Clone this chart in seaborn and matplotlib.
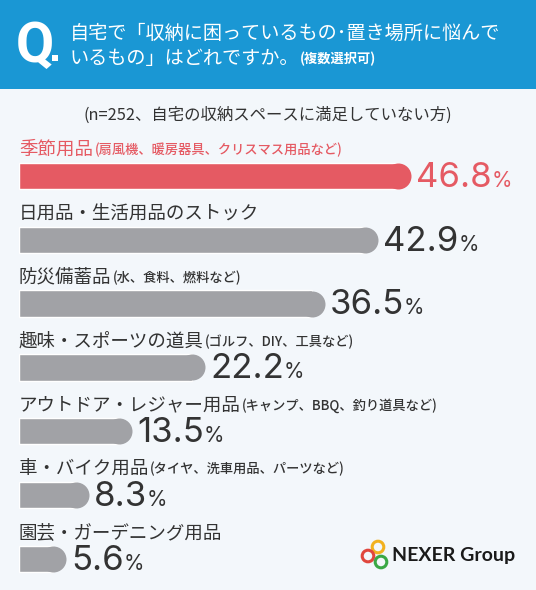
import numpy as np
import matplotlib.pyplot as plt
import pandas as pd
import seaborn as sns
from matplotlib.patches import Rectangle, Circle

# data
items = ['季節用品', '日用品・生活用品のストック', '防災備蓄品', '趣味・スポーツの道具',
         'アウトドア・レジャー用品', '車・バイク用品', '園芸・ガーデニング用品']
notes = ['(扇風機、暖房器具、クリスマス用品など)', '', '(水、食料、燃料など)',
         '(ゴルフ、DIY、工具など)', '(キャンプ、BBQ、釣り道具など)',
         '(タイヤ、洗車用品、パーツなど)', '']
pct = [46.8, 42.9, 36.5, 22.2, 13.5, 8.3, 5.6]

title_1 = '自宅で「収納に困っているもの･置き場所に悩んで'
title_2 = 'いるもの」はどれですか。'
title_note = '(複数選択可)'
subtitle = '(n=252、自宅の収納スペースに満足していない方)'

blue = '#1a97d4'
bg_col = '#f3f7fb'
red = '#e55a63'
grey = '#a1a2a6'
dark = '#333333'

sns.set_theme(style='white')
plt.rcParams['font.family'] = ['Noto Sans CJK JP', 'DejaVu Sans']

W, H = 536, 590
fig = plt.figure(figsize=(W / 100, H / 100), dpi=100)
fig.patch.set_facecolor(bg_col)

# background / header layer in pixel coords
bg = fig.add_axes([0, 0, 1, 1])
bg.set_xlim(0, W)
bg.set_ylim(H, 0)
bg.axis('off')
bg.add_patch(Rectangle((0, 0), W, 89, color=blue, lw=0))

bg.text(16, 62, 'Q', color='white', fontsize=40, fontweight='bold',
        family=['Roboto', 'DejaVu Sans'], va='baseline', ha='left')
bg.add_patch(Rectangle((52, 55), 6, 6, color='white', lw=0))
bg.text(70, 33, title_1, color='white', fontsize=13.8, va='center', ha='left')
t2 = bg.text(70, 59, title_2, color='white', fontsize=13.8, va='center', ha='left')
bg.annotate(title_note, xy=(1, 0.5), xycoords=t2, color='white', fontsize=9.5,
            fontweight='bold', va='center', ha='left')
bg.text(268, 115, subtitle, color=dark, fontsize=11.8, va='center', ha='center')

# logo
for (cx, cy), c in zip([(378, 547), (368, 556), (381, 562)], ['#f2b11f', '#e0463d', '#3aa845']):
    bg.add_patch(Circle((cx, cy), 5.8, fill=False, ec=c, lw=2.2))
bg.text(392, 555, 'NEXER Group', color='#1a1a1a', fontsize=14, fontweight='bold',
        family=['Lato', 'DejaVu Sans'], va='center', ha='left')

# bars
df = pd.DataFrame({'item': items, 'pct': pct})
colors = [red] + [grey] * (len(items) - 1)

ax = fig.add_axes([19 / W, 0, 517 / W, 446 / H])
ax.set_zorder(2)
ax.patch.set_alpha(0)
sns.barplot(data=df, x='pct', y='item', hue='item', palette=colors, legend=False,
            width=0.41, saturation=1, ax=ax)
xmax = 46.8 * 517 / 392
ax.set_xlim(0, xmax)
ax.set_ylim(6.487, -0.5)
ax.axis('off')

px_x = 517 / xmax          # pixels per data unit on x
px_y = 63.83               # pixels per row
r = 13 / px_x
# round right end of each bar
for cont in ax.containers:
    for bar in cont:
        w = bar.get_width()
        yc = bar.get_y() + bar.get_height() / 2
        bar.set_width(w - r)
        ax.scatter([w - r], [yc], s=(26 * 0.72) ** 2, color=bar.get_facecolor(),
                   linewidths=0, zorder=3)

for i, (name, note, v) in enumerate(zip(items, notes, pct)):
    c = red if i == 0 else dark
    t = ax.text(0, i - 26 / px_y, name, color=c, fontsize=13.3, va='center',
                ha='left', clip_on=False)
    if note:
        ax.annotate(note, xy=(1, 0.5), xycoords=t, xytext=(1, 0), textcoords='offset points',
                    color=c, fontsize=9.5, fontweight='medium', va='center', ha='left')
    vc = red if i == 0 else dark
    num = ax.text(v + 5 / px_x, i + 0.17, f'{v:.1f}', color=vc, fontsize=25,
                  family=['Inter', 'DejaVu Sans'], va='baseline', ha='left')
    ax.annotate('%', xy=(1, i + 0.17), xycoords=(num, 'data'), color=vc, fontsize=15,
                family=['Inter', 'DejaVu Sans'], va='baseline', ha='left')

fig.savefig('out.png', dpi=100, facecolor=bg_col)
